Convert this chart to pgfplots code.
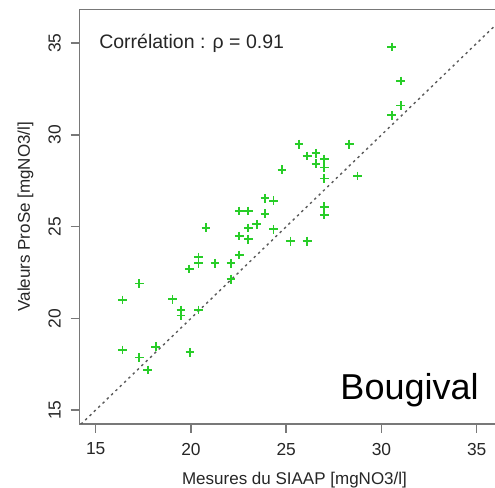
\documentclass[border=0pt]{standalone}
\usepackage{fontspec}
\setmainfont{Liberation Sans}
\usepackage{pgfplots}
\pgfplotsset{compat=1.18}
\usepackage{pgfplotstable}
\definecolor{ptgreen}{RGB}{40,205,40}
\definecolor{axgray}{RGB}{120,120,120}
\definecolor{diag}{RGB}{90,90,90}
\pgfplotstableread{
x y
16.40 21.00
17.29 21.90
16.40 18.27
17.29 17.87
17.73 17.18
18.15 18.45
19.04 21.04
19.48 20.45
19.48 20.16
19.95 18.15
20.39 20.45
19.91 22.69
20.39 23.33
20.39 23.00
21.26 23.00
22.10 23.00
22.10 22.14
22.54 23.45
20.79 24.94
22.54 25.85
23.01 25.85
23.89 26.55
24.34 26.41
24.78 28.10
23.89 25.70
23.45 25.13
23.01 24.93
22.54 24.49
23.01 24.31
24.34 24.86
25.22 24.21
26.10 24.21
26.10 28.85
26.56 29.00
26.56 28.43
27.00 28.68
27.00 28.22
27.00 27.62
27.00 26.08
27.00 25.65
30.54 34.79
31.01 32.94
31.01 31.61
30.54 31.07
25.67 29.50
28.31 29.50
28.75 27.76
}\data
\begin{document}
\begin{tikzpicture}
\useasboundingbox (-39.65pt,-32pt) rectangle (207.85pt,212pt);
\begin{axis}[
 at={(0,0)}, anchor=south west,
 scale only axis, width=207.85pt, height=207.35pt,
 xmin=14.14, xmax=35.96, ymin=14.24, ymax=36.85,
 axis x line=box, axis y line=left,
 x axis line style={-}, y axis line style={-},
 axis line style={axgray, line width=0.75pt},
 xtick={15,20,...,35}, ytick={15,20,...,35},
 xtick pos=bottom, ytick pos=left,
 tick align=outside, major tick length=4.3pt,
 tick style={axgray, line width=0.75pt},
 minor tick num=0,
 /pgf/number format/assume math mode=true,
 tick label style={font=\fontsize{8.7}{10}\selectfont, text=black!85},
 xticklabel style={anchor=north, inner sep=0pt, yshift=-5pt},
 yticklabel style={xshift=-5pt, rotate=90, anchor=base, inner sep=0pt},
 xlabel={Mesures du SIAAP [mgNO3/l]},
 ylabel={Valeurs ProSe [mgNO3/l]},
 label style={font=\fontsize{8.5}{10}\selectfont, text=black!85},
 xlabel style={at={(axis description cs:0.5177,-0.1471)}, anchor=base, inner sep=0pt},
 ylabel style={at={(axis description cs:-0.1186,0.5)}, anchor=base, inner sep=0pt},
 clip=true,
]
\addplot[diag, line width=0.7pt, dash pattern=on 1.2pt off 1.8pt] coordinates {(14,14) (37,37)};
\addplot[only marks, mark=+, mark size=2.2pt, mark options={line width=0.85pt}, color=ptgreen] table {\data};
\node[anchor=base west, inner sep=0pt, font=\fontsize{9.75}{11}\selectfont, text=black!85] at (axis cs:15.17,34.69) {Corrélation : ρ = 0.91};
\node[anchor=base east, inner sep=0pt, font=\fontsize{18}{20}\selectfont] at (axis cs:35.12,15.6) {Bougival};
\end{axis}
\end{tikzpicture}
\end{document}
